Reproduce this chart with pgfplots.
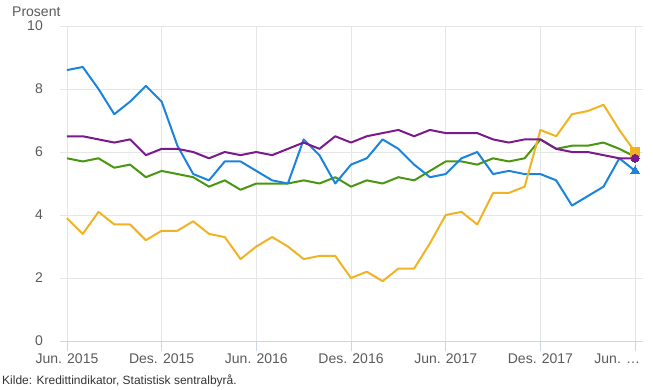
\documentclass[border=0pt]{standalone}
\usepackage{fontspec}
\setmainfont{Liberation Sans}
\usepackage{pgfplots}
\usepackage{pgfplotstable}
\pgfplotsset{compat=1.18}
\definecolor{sblue}{HTML}{1A84DC}
\definecolor{spurple}{HTML}{7A1A8C}
\definecolor{sgreen}{HTML}{4A9610}
\definecolor{sorange}{HTML}{F0B323}
\definecolor{gridgray}{HTML}{E6E6E6}
\definecolor{axisblue}{HTML}{CCD6EB}
\definecolor{labelgray}{HTML}{5A5A5A}
\pgfplotstableread{
i blue purple green orange
0 8.6 6.5 5.8 3.9
1 8.7 6.5 5.7 3.4
2 8.0 6.4 5.8 4.1
3 7.2 6.3 5.5 3.7
4 7.6 6.4 5.6 3.7
5 8.1 5.9 5.2 3.2
6 7.6 6.1 5.4 3.5
7 6.2 6.1 5.3 3.5
8 5.3 6.0 5.2 3.8
9 5.1 5.8 4.9 3.4
10 5.7 6.0 5.1 3.3
11 5.7 5.9 4.8 2.6
12 5.4 6.0 5.0 3.0
13 5.1 5.9 5.0 3.3
14 5.0 6.1 5.0 3.0
15 6.4 6.3 5.1 2.6
16 5.9 6.1 5.0 2.7
17 5.0 6.5 5.2 2.7
18 5.6 6.3 4.9 2.0
19 5.8 6.5 5.1 2.2
20 6.4 6.6 5.0 1.9
21 6.1 6.7 5.2 2.3
22 5.6 6.5 5.1 2.3
23 5.2 6.7 5.4 3.1
24 5.3 6.6 5.7 4.0
25 5.8 6.6 5.7 4.1
26 6.0 6.6 5.6 3.7
27 5.3 6.4 5.8 4.7
28 5.4 6.3 5.7 4.7
29 5.3 6.4 5.8 4.9
30 5.3 6.4 6.4 6.7
31 5.1 6.1 6.1 6.5
32 4.3 6.0 6.2 7.2
33 4.6 6.0 6.2 7.3
34 4.9 5.9 6.3 7.5
35 5.8 5.8 6.1 6.7
36 5.4 5.8 5.85 6.0
}\datatable
\begin{document}
\begin{tikzpicture}[x=1pt,y=1pt]
\path[use as bounding box] (0,0) rectangle (654,389);
\begin{axis}[
  at={(60pt,48pt)}, anchor=south west,
  scale only axis, width=583pt, height=315pt,
  xmin=-0.44, xmax=36.5, ymin=0, ymax=10,
  axis x line*=bottom, axis y line*=left,
  x axis line style={draw=axisblue, line width=0.8pt, -},
  y axis line style={draw=none},
  xtick={0,6,...,36},
  xticklabels={Jun. 2015, Des. 2015, Jun. 2016, Des. 2016, Jun. 2017, Des. 2017, \makebox[0pt][r]{Jun. …\hspace*{-5pt}}},
  ytick={0,2,...,10},
  xtick align=outside,
  x tick style={draw=axisblue, line width=0.8pt},
  major tick length=10pt,
  y tick style={draw=none},
  grid=major,
  major grid style={draw=gridgray, line width=0.8pt},
  /pgf/number format/assume math mode=true,
  tick label style={font=\fontsize{14}{16}\selectfont, text=labelgray},
  yticklabel style={anchor=east, inner sep=0pt, xshift=-17pt},
  xticklabel style={anchor=north, inner sep=0pt, yshift=-3pt},
  clip=false,
  every axis plot/.append style={line width=2pt, line join=round},
]
\addplot[color=sgreen, mark=diamond*, mark size=4pt, mark indices={37}] table[x=i, y=green] {\datatable};
\addplot[color=sblue, mark=triangle*, mark size=5pt, mark indices={37}, mark options={line width=0pt}] table[x=i, y=blue] {\datatable};
\addplot[color=sorange, mark=square*, mark size=4.5pt, mark indices={37}, mark options={line width=0pt}] table[x=i, y=orange] {\datatable};
\addplot[color=spurple, mark=*, mark size=4pt, mark indices={37}, mark options={line width=0pt}] table[x=i, y=purple] {\datatable};
\end{axis}
\node[anchor=west, inner sep=0pt, text=labelgray, font=\fontsize{14}{16}\selectfont] at (12,377) {Prosent};
\node[anchor=west, inner sep=0pt, text=black!80, font=\fontsize{12}{14}\selectfont] at (2,8.5) {Kilde: Kredittindikator, Statistisk sentralbyrå.};
\end{tikzpicture}
\end{document}
